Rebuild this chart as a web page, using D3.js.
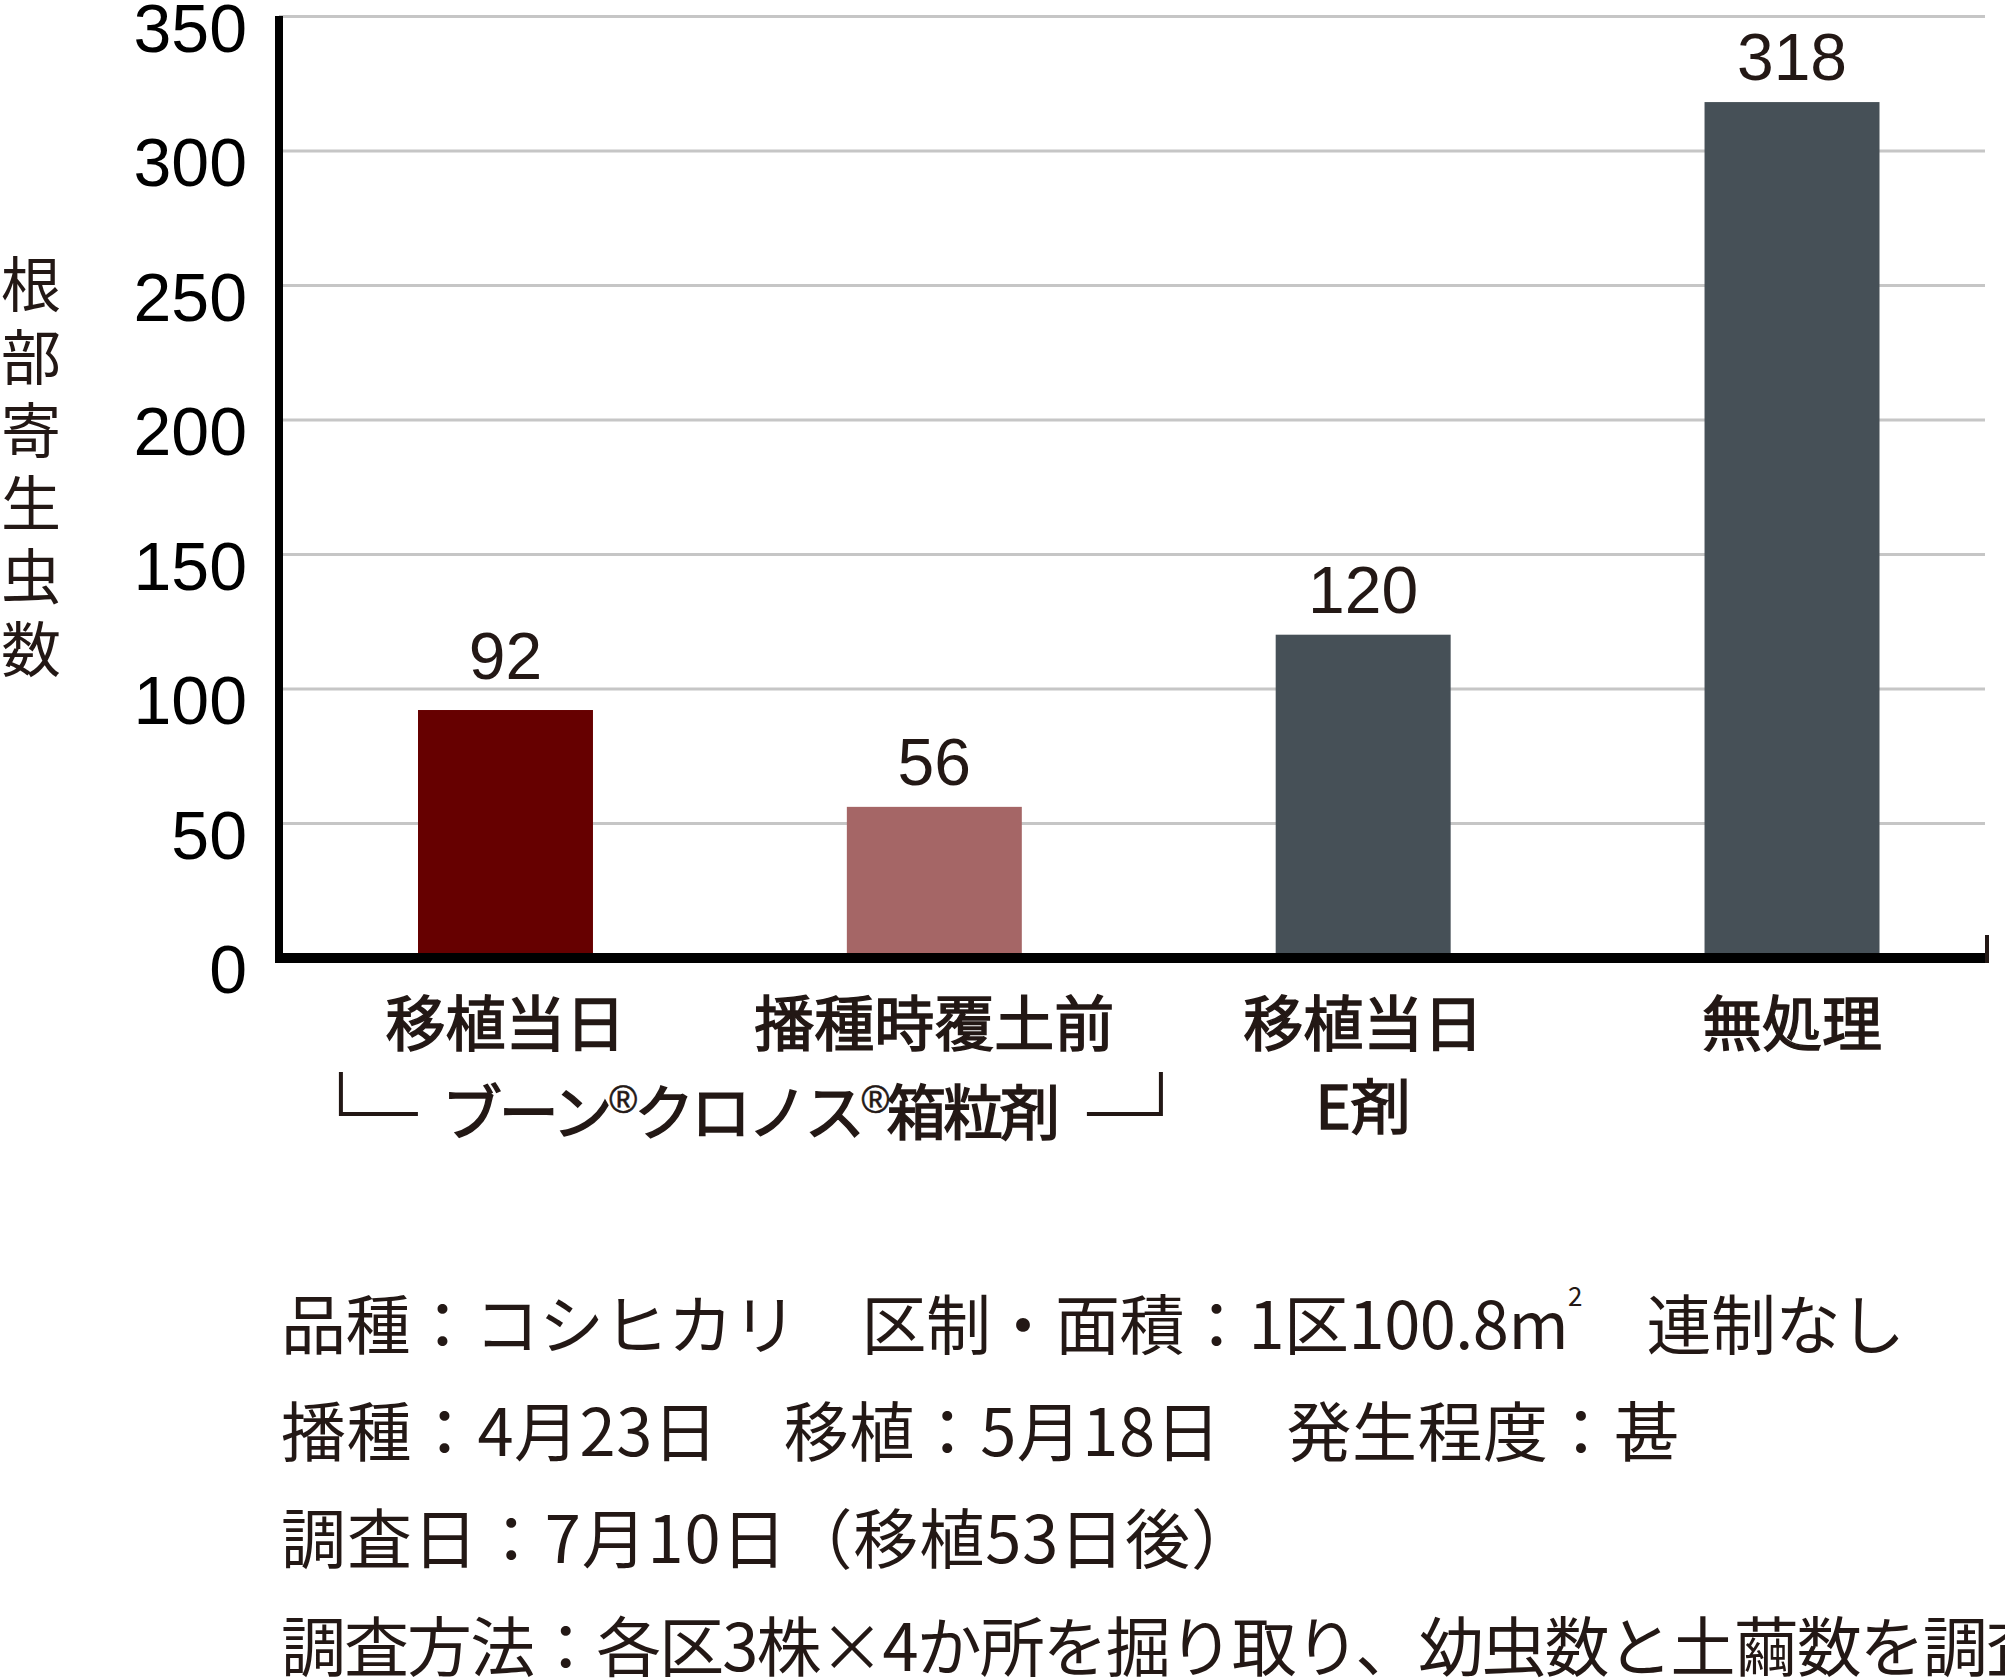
<!DOCTYPE html>
<html>
<head>
<meta charset="utf-8">
<script src="https://cdn.jsdelivr.net/npm/d3@7"></script>
<style>
  html, body { margin: 0; padding: 0; background: #fff; }
  svg { display: block; }
</style>
</head>
<body>
<script>
// ---- data ----
const categories = ["移植当日", "播種時覆土前", "移植当日", "無処理"];
const subLabels = ["", "", "E剤", ""];
const values = [92, 56, 120, 318];
const barColors = ["#660000", "#a56666", "#465057", "#465057"];
const yTicks = [0, 50, 100, 150, 200, 250, 300, 350];
const yTitle = "根部寄生虫数";
const groupParts = ["ブーン", "®", "クロノス", "®", "箱粒剤"];
const notes = [
  ["品種：コシヒカリ　区制・面積：1区100.8m", "2", "　連制なし"],
  ["播種：4月23日　移植：5月18日　発生程度：甚"],
  ["調査日：7月10日（移植53日後）"],
  ["調査方法：各区3株×4か所を掘り取り、幼虫数と土繭数を調査"]
];

// ---- layout ----
const W = 2005, H = 1678;
const axisX = 279, axisRight = 1987;
const TXT = "#231815";
const CJK = "'Noto Sans CJK JP', 'Noto Sans CJK SC', sans-serif";
const LAT = "'Liberation Sans', Arial, sans-serif";

const svg = d3.select("body").append("svg")
  .attr("width", W).attr("height", H)
  .attr("viewBox", `0 0 ${W} ${H}`);

const y = d3.scaleLinear().domain([0, 350]).range([957.5, 16]);
const x = d3.scaleBand().domain(d3.range(categories.length))
  .range([418, 1879.5]).paddingInner(0.592).paddingOuter(0);

// gridlines
const grid = svg.append("g").attr("transform", `translate(${axisX},0)`)
  .call(d3.axisLeft(y).tickValues(yTicks.filter(t => t > 0)).tickSize(-(axisRight - 2 - axisX)).tickFormat(""));
grid.select(".domain").remove();
grid.selectAll(".tick line").attr("stroke", "#c6c6c6").attr("stroke-width", 3);

// bars
svg.append("g").selectAll("rect").data(values).join("rect")
  .attr("x", (d, i) => x(i))
  .attr("width", x.bandwidth())
  .attr("y", d => y(d))
  .attr("height", d => y(0) - y(d))
  .attr("fill", (d, i) => barColors[i]);

// value labels (lifted clear of a gridline when they would sit on it)
function labelBase(d) {
  let b = y(d) - 22;
  yTicks.forEach(t => { if (t > 0 && Math.abs(y(t) - b) < 12) b = y(t) - 10; });
  return b;
}
svg.append("g").selectAll("text").data(values).join("text")
  .attr("x", (d, i) => x(i) + x.bandwidth() / 2)
  .attr("y", d => labelBase(d))
  .attr("text-anchor", "middle")
  .attr("font-family", LAT)
  .attr("font-size", 66)
  .attr("fill", TXT)
  .text(d => d);

// y tick labels
const yAx = svg.append("g").attr("transform", `translate(${axisX},0)`)
  .call(d3.axisLeft(y).tickValues(yTicks).tickSize(0).tickPadding(32));
yAx.select(".domain").remove();
yAx.selectAll(".tick text")
  .attr("font-family", LAT).attr("font-size", 68).attr("fill", "#000")
  .attr("dy", "0.52em");

// axes lines
svg.append("line").attr("x1", axisX).attr("x2", axisX).attr("y1", 16).attr("y2", 962)
  .attr("stroke", "#000").attr("stroke-width", 8);
svg.append("line").attr("x1", axisX - 4).attr("x2", axisRight).attr("y1", 958).attr("y2", 958)
  .attr("stroke", "#000").attr("stroke-width", 10);
svg.append("line").attr("x1", axisRight).attr("x2", axisRight).attr("y1", 935).attr("y2", 963)
  .attr("stroke", TXT).attr("stroke-width", 4);

// y title (vertical writing)
svg.append("text")
  .attr("x", 31).attr("y", 254)
  .style("writing-mode", "vertical-rl")
  .attr("letter-spacing", 13)
  .attr("font-family", CJK).attr("font-size", 60).attr("fill", TXT)
  .text(yTitle);

// category labels (medium weight)
function medium(sel) {
  return sel.attr("font-family", CJK).attr("font-size", 60).attr("font-weight", 400)
    .attr("fill", TXT).attr("stroke", TXT).attr("stroke-width", 1.5);
}
const catG = svg.append("g");
catG.selectAll("text.cat").data(categories).join("text").attr("class", "cat")
  .attr("x", (d, i) => x(i) + x.bandwidth() / 2)
  .attr("y", 1019)
  .attr("text-anchor", "middle").attr("dominant-baseline", "central")
  .call(medium)
  .text(d => d);
catG.selectAll("text.sub").data(subLabels).join("text").attr("class", "sub")
  .attr("x", (d, i) => x(i) + x.bandwidth() / 2)
  .attr("y", 1102)
  .attr("text-anchor", "middle").attr("dominant-baseline", "central")
  .call(medium)
  .text(d => d);

// group bracket for first two categories
const mid = (x(0) + x(1) + x.bandwidth()) / 2 + 31;
const gl = svg.append("text")
  .attr("x", mid).attr("y", 1108)
  .attr("text-anchor", "middle").attr("dominant-baseline", "central")
  .attr("textLength", 618).attr("lengthAdjust", "spacing")
  .call(medium);
groupParts.forEach((p, i) => {
  const isR = p === "®";
  const ts = gl.append("tspan")
    .attr("dy", isR ? -8 : (i > 0 ? 8 : 0))
    .text(p);
  if (isR) ts.attr("font-family", LAT).attr("font-size", 38).attr("stroke-width", 0.6);
});
const bracket = svg.append("g").attr("fill", "none").attr("stroke", TXT).attr("stroke-width", 4);
bracket.append("path").attr("d", `M${mid - 410},1072 V1114 H${mid - 333}`);
bracket.append("path").attr("d", `M${mid + 336},1114 H${mid + 410} V1072`);

// notes
const noteY = [1321, 1428, 1535, 1643];
const noteLen = [1624, 1398, 975, null];
notes.forEach((parts, li) => {
  const t = svg.append("text")
    .attr("x", 281).attr("y", noteY[li])
    .attr("dominant-baseline", "central")
    .attr("font-family", CJK).attr("font-size", 65).attr("fill", TXT);
  parts.forEach((p, i) => {
    const sup = (li === 0 && i === 1);
    t.append("tspan")
      .attr("font-size", sup ? 26 : 65)
      .attr("dy", sup ? -27 : (i > 0 ? 27 : 0))
      .text(p);
  });
  if (noteLen[li]) {
    t.attr("textLength", noteLen[li]).attr("lengthAdjust", "spacing");
  } else {
    const nat = t.node().getComputedTextLength();
    t.attr("textLength", nat * 0.97).attr("lengthAdjust", "spacing");
  }
});
</script>
</body>
</html>
